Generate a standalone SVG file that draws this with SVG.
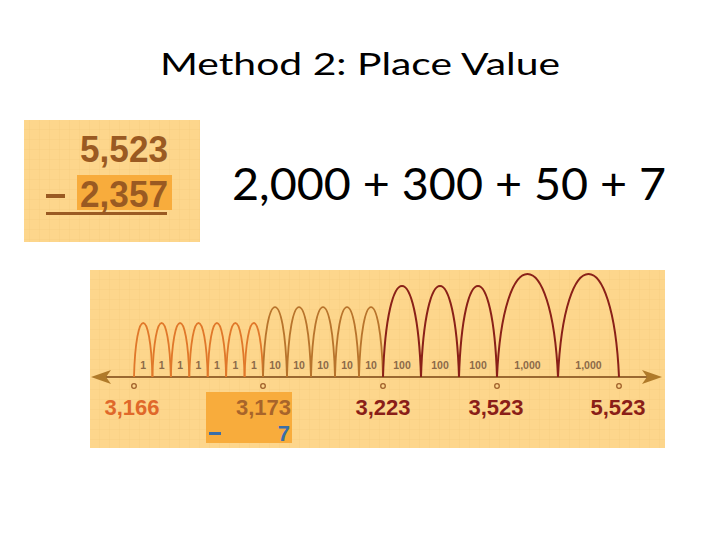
<svg xmlns="http://www.w3.org/2000/svg" width="720" height="540" viewBox="0 0 720 540">
<defs>
<pattern id="grid" width="10" height="10" patternUnits="userSpaceOnUse">
<path d="M10 0V10H0" fill="none" stroke="#F2C070" stroke-width="0.6" opacity="0.6"/>
</pattern>
<marker id="ah" viewBox="0 0 20 14" refX="16" refY="7" markerWidth="20" markerHeight="14" markerUnits="userSpaceOnUse" orient="auto-start-reverse">
<path d="M0 0L20 7L0 14L5 7Z" fill="#B07A2A"/>
</marker>
<style>
.bg{fill:#FDD68C}
.num{font-family:"Liberation Sans",Arial,sans-serif;font-weight:bold}
.jl{font-family:"Liberation Sans",Arial,sans-serif;font-weight:bold;font-size:10.5px;fill:#8C6A48;text-anchor:middle}
.a1{fill:none;stroke:#E0782A;stroke-width:1.8}
.a10{fill:none;stroke:#B8742C;stroke-width:1.8}
.a100{fill:none;stroke:#8A2018;stroke-width:2}
.tick{fill:none;stroke:#A0602A;stroke-width:1.3}
.big{font-family:Lato,"Open Sans",sans-serif;fill:#000}
</style>
</defs>
<rect width="720" height="540" fill="#FFFFFF"/>
<text x="160" y="75" class="big" font-size="31" textLength="400" lengthAdjust="spacingAndGlyphs">Method 2: Place Value</text>

<g id="problem">
<rect x="24" y="120" width="176" height="122" class="bg"/>
<rect x="24" y="120" width="176" height="122" fill="url(#grid)"/>
<text x="168" y="162" text-anchor="end" class="num" font-size="36" fill="#9A5A22" textLength="88" lengthAdjust="spacingAndGlyphs">5,523</text>
<rect x="77" y="175" width="95" height="35" fill="#F8AC3C"/>
<text x="168" y="207" text-anchor="end" class="num" font-size="36" fill="#9A5A22" textLength="88" lengthAdjust="spacingAndGlyphs">2,357</text>
<rect x="46" y="194" width="19" height="4" fill="#9A5A22"/>
<rect x="46" y="212" width="121" height="3" fill="#9A5A22"/>
</g>

<g id="expansion">
<text x="232" y="200" class="big" font-size="45" textLength="434" lengthAdjust="spacingAndGlyphs">2,000 + 300 + 50 + 7</text>
</g>

<g id="numberline">
<rect x="90" y="270" width="575" height="178" class="bg"/>
<rect x="90" y="270" width="575" height="178" fill="url(#grid)"/>
<rect x="206" y="392" width="86" height="51" fill="#F8AC3C"/>
</g>

<g id="connectors">
<line x1="95" y1="377" x2="658" y2="377" stroke="#9A6830" stroke-width="2" marker-start="url(#ah)" marker-end="url(#ah)"/>
<g class="a1">
<path d="M134 377c1.84 -72 16.59 -72 18.43 0"/>
<path d="M152.43 377c1.84 -72 16.59 -72 18.43 0"/>
<path d="M170.86 377c1.84 -72 16.59 -72 18.43 0"/>
<path d="M189.29 377c1.84 -72 16.59 -72 18.43 0"/>
<path d="M207.71 377c1.84 -72 16.59 -72 18.43 0"/>
<path d="M226.14 377c1.84 -72 16.59 -72 18.43 0"/>
<path d="M244.57 377c1.84 -72 16.59 -72 18.43 0"/>
</g>
<g class="a10">
<path d="M263 377c2.4 -93.3 21.6 -93.3 24 0"/>
<path d="M287 377c2.4 -93.3 21.6 -93.3 24 0"/>
<path d="M311 377c2.4 -93.3 21.6 -93.3 24 0"/>
<path d="M335 377c2.4 -93.3 21.6 -93.3 24 0"/>
<path d="M359 377c2.4 -93.3 21.6 -93.3 24 0"/>
</g>
<g class="a100">
<path d="M383 377c3.8 -121.3 34.2 -121.3 38 0"/>
<path d="M421 377c3.8 -121.3 34.2 -121.3 38 0"/>
<path d="M459 377c3.8 -121.3 34.2 -121.3 38 0"/>
<path d="M497 377c6.1 -137.3 54.9 -137.3 61 0"/>
<path d="M558 377c6.1 -137.3 54.9 -137.3 61 0"/>
</g>
<g class="tick">
<circle cx="134" cy="386" r="2.3"/>
<circle cx="263" cy="386" r="2.3"/>
<circle cx="383" cy="386" r="2.3"/>
<circle cx="497" cy="386" r="2.3"/>
<circle cx="619" cy="386" r="2.3"/>
</g>
</g>

<g id="jump-labels">
<text class="jl" x="143.2" y="369">1</text>
<text class="jl" x="161.6" y="369">1</text>
<text class="jl" x="180.1" y="369">1</text>
<text class="jl" x="198.5" y="369">1</text>
<text class="jl" x="216.9" y="369">1</text>
<text class="jl" x="235.4" y="369">1</text>
<text class="jl" x="253.8" y="369">1</text>
<text class="jl" x="275" y="369">10</text>
<text class="jl" x="299" y="369">10</text>
<text class="jl" x="323" y="369">10</text>
<text class="jl" x="347" y="369">10</text>
<text class="jl" x="371" y="369">10</text>
<text class="jl" x="402" y="369">100</text>
<text class="jl" x="440" y="369">100</text>
<text class="jl" x="478" y="369">100</text>
<text class="jl" x="527.5" y="369">1,000</text>
<text class="jl" x="588.5" y="369">1,000</text>
</g>

<g id="values">
<text x="132" y="415" text-anchor="middle" class="num" font-size="22" fill="#E0682A">3,166</text>
<text x="291" y="415" text-anchor="end" class="num" font-size="22" fill="#A8642A">3,173</text>
<rect x="209" y="432" width="12" height="3" fill="#3A6EA8"/>
<text x="290" y="441" text-anchor="end" class="num" font-size="22" fill="#3A6EA8">7</text>
<text x="383" y="415" text-anchor="middle" class="num" font-size="22" fill="#8A1E18">3,223</text>
<text x="496" y="415" text-anchor="middle" class="num" font-size="22" fill="#8A1E18">3,523</text>
<text x="618" y="415" text-anchor="middle" class="num" font-size="22" fill="#8A1E18">5,523</text>
</g>
</svg>
